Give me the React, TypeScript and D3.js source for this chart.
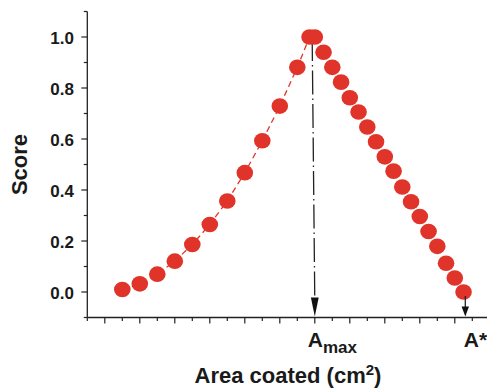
import React from "react";
import * as d3 from "d3";

// ---- data ----
const riseArea = [2, 3, 4, 5, 6, 7, 8, 9, 10, 11, 12, 12.7];
const riseScore = [0.01, 0.032, 0.07, 0.121, 0.186, 0.265, 0.357, 0.468, 0.593, 0.729, 0.881, 1.0];
const fallArea = [13, 13.5, 14, 14.5, 15, 15.5, 16, 16.5, 17, 17.5, 18, 18.5, 19, 19.5, 20, 20.5, 21, 21.5];
const fallScore = [1.0, 0.94, 0.881, 0.823, 0.762, 0.706, 0.647, 0.589, 0.53, 0.474, 0.412, 0.354, 0.296, 0.237, 0.179, 0.113, 0.055, 0.0];
const yMajorTicks = [0, 0.2, 0.4, 0.6, 0.8, 1.0];
const yTickLabels = ["0.0", "0.2", "0.4", "0.6", "0.8", "1.0"];
const yMinorTicks = [-0.1, 0.1, 0.3, 0.5, 0.7, 0.9, 1.1];
const xMajorTicks = [1, 3, 5, 7, 9, 11, 13, 15, 17, 19, 21, 23];
const xMinorTicks = [0, 2, 4, 6, 8, 10, 12, 14, 16, 18, 20, 22];
const aMaxArea = 13;
const aMaxTop = 12.85;
const aStarArea = 21.6;

const W = 487;
const H = 392;
const RED = "#e0342a";
const AX = "#222";
const FONT = "'Liberation Sans', Arial, Helvetica, sans-serif";

export default function App() {
  const x = d3.scaleLinear().domain([0, 23]).range([87.3, 87.3 + 23 * 17.5]);
  const y = d3.scaleLinear().domain([-0.1, 1.1]).range([317.5, 11.5]);

  const rise = riseArea.map((a, i) => [a, riseScore[i]] as [number, number]);
  const fall = fallArea.map((a, i) => [a, fallScore[i]] as [number, number]);
  const line = d3
    .line<[number, number]>()
    .x((d) => x(d[0]))
    .y((d) => y(d[1]));

  const x0 = x(0);
  const yBase = y(-0.1);

  const amx = x(aMaxArea);
  const asx = x(aStarArea);

  return (
    <svg
      width={W}
      height={H}
      style={{ position: "absolute", left: 0, top: 0, background: "#fff" }}
      fontFamily={FONT}
    >
      <rect x={0} y={0} width={W} height={H} fill="#fff" />
      {/* axes */}
      <line x1={x0} x2={x0} y1={y(1.1)} y2={yBase} stroke={AX} strokeWidth={1.3} />
      <line x1={x0} x2={W + 5} y1={yBase} y2={yBase} stroke={AX} strokeWidth={1.3} />
      {yMajorTicks.map((t, i) => (
        <g key={"ym" + i}>
          <line x1={x0 - 6} x2={x0} y1={y(t)} y2={y(t)} stroke={AX} strokeWidth={1.2} />
          <text
            x={74}
            y={y(t) + 6.8}
            textAnchor="end"
            fontSize={17}
            fontWeight="bold"
            fill="#1a1a1a"
          >
            {yTickLabels[i]}
          </text>
        </g>
      ))}
      {yMinorTicks.map((t, i) => (
        <line key={"yn" + i} x1={x0 - 3.5} x2={x0} y1={y(t)} y2={y(t)} stroke={AX} strokeWidth={1.2} />
      ))}
      {xMajorTicks.map((t, i) => (
        <line key={"xm" + i} x1={x(t)} x2={x(t)} y1={yBase} y2={yBase + 6} stroke={AX} strokeWidth={1.2} />
      ))}
      {xMinorTicks.map((t, i) => (
        <line key={"xn" + i} x1={x(t)} x2={x(t)} y1={yBase} y2={yBase + 3.5} stroke={AX} strokeWidth={1.2} />
      ))}

      {/* dashed rising line */}
      <path d={line(rise) || ""} fill="none" stroke={RED} strokeWidth={1.3} strokeDasharray="6,4" />

      {/* dash-dot line to A_max */}
      <line
        x1={x(aMaxTop)}
        y1={y(1.0)}
        x2={amx}
        y2={yBase - 16}
        stroke={AX}
        strokeWidth={1.3}
        strokeDasharray="24,4,1.5,4"
      />
      <path
        d={`M${amx - 3.9},${yBase - 20} L${amx + 3.9},${yBase - 20} L${amx},${yBase - 1} Z`}
        fill="#111"
      />

      {/* dots */}
      {rise.map((d, i) => (
        <ellipse key={"r" + i} cx={x(d[0])} cy={y(d[1])} rx={8.3} ry={7.8} fill={RED} />
      ))}
      {fall.map((d, i) => (
        <ellipse key={"f" + i} cx={x(d[0])} cy={y(d[1])} rx={8.3} ry={7.8} fill={RED} />
      ))}

      {/* arrow to A* */}
      <line x1={asx} x2={asx} y1={y(0) + 4} y2={yBase - 8} stroke={AX} strokeWidth={1.3} />
      <path
        d={`M${asx - 3.7},${yBase - 11} L${asx + 3.7},${yBase - 11} L${asx},${yBase - 1} Z`}
        fill="#111"
      />

      {/* annotation labels */}
      <text x={amx - 7} y={346.7} fontSize={21} fontWeight="bold" fill="#1a1a1a">
        A
        <tspan fontSize={17} dy={6}>
          max
        </tspan>
      </text>
      <text x={asx - 1.5} y={346.7} fontSize={21} fontWeight="bold" fill="#1a1a1a">
        A*
      </text>

      {/* axis titles */}
      <text
        x={288}
        y={383.3}
        textAnchor="middle"
        fontSize={22}
        fontWeight="bold"
        fill="#1a1a1a"
      >
        Area coated (cm
        <tspan fontSize={15} dy={-8.5}>
          2
        </tspan>
        <tspan dy={8.5}>)</tspan>
      </text>
      <text
        transform={`translate(26.5,${(y(1.1) + yBase) / 2}) rotate(-90)`}
        textAnchor="middle"
        fontSize={22}
        fontWeight="bold"
        fill="#1a1a1a"
      >
        Score
      </text>
    </svg>
  );
}
